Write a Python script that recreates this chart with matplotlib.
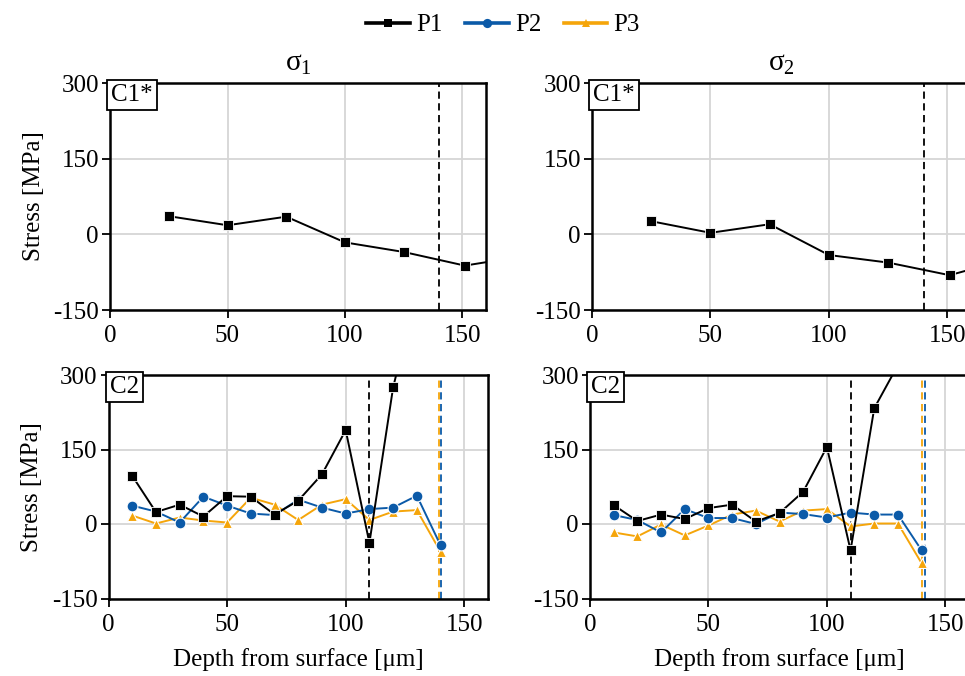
import matplotlib
matplotlib.use("Agg")
import matplotlib.pyplot as plt
from matplotlib.lines import Line2D

plt.rcParams["font.family"] = ["Liberation Serif", "DejaVu Serif"]
plt.rcParams["mathtext.fontset"] = "custom"
plt.rcParams["mathtext.rm"] = "Liberation Serif"
plt.rcParams["mathtext.it"] = "Liberation Serif"
plt.rcParams["axes.unicode_minus"] = False

# ---- data -------------------------------------------------------------
# C1*: single profile P1, depth steps of 25 µm
c1_depth = [25, 50, 75, 100, 125, 151, 175]
c1_s1_p1 = [36, 18, 35, -16, -35, -62, -44]
c1_s2_p1 = [26, 3, 20, -41, -56, -81, -50]
c1_limit = 140

# C2: three profiles, depth steps of 10 µm
c2_depth_p1 = [10, 20, 30, 40, 50, 60, 70, 80, 90, 100, 110, 120, 130]
c2_s1_p1 = [97, 24, 39, 15, 56, 55, 19, 47, 100, 189, -38, 275, 470]
c2_s2_p1 = [38, 6, 19, 10, 32, 39, 5, 22, 65, 155, -53, 233, 320]

c2_depth = [10, 20, 30, 40, 50, 60, 70, 80, 90, 100, 110, 120, 130, 140]
c2_s1_p2 = [37, 25, 3, 55, 37, 21, 18, 49, 33, 21, 30, 33, 57, -43]
c2_s1_p3 = [17, 1, 13, 7, 3, 53, 39, 8, 39, 50, 8, 25, 28, -56]
c2_s2_p2 = [18, 8, -17, 30, 12, 12, 0, 23, 20, 13, 23, 19, 19, -53]
c2_s2_p3 = [-17, -25, -1, -23, -3, 19, 27, 5, 27, 30, -5, 1, 1, -79]

c2_limit_p1 = 110
c2_limits_s1 = {"P2": 140.3, "P3": 139.3}
c2_limits_s2 = {"P2": 141.3, "P3": 140.2}

series_names = ["P1", "P2", "P3"]
x_ticks = [0, 50, 100, 150]
y_ticks = [-150, 0, 150, 300]
column_titles = [r"$\mathregular{\sigma_1}$", r"$\mathregular{\sigma_2}$"]

# ---- styles -----------------------------------------------------------
BLACK = "#000000"
BLUE = "#0b5aa8"
ORANGE = "#f5a50a"
FS = 18

styles = {
    "P1": dict(color=BLACK, marker="s", markersize=7.6, markeredgecolor="white",
               markeredgewidth=0.6, markerfacecolor=BLACK, lw=1.4),
    "P2": dict(color=BLUE, marker="o", markersize=7.8, markeredgecolor="white",
               markeredgewidth=0.8, markerfacecolor=BLUE, lw=1.4),
    "P3": dict(color=ORANGE, marker="^", markersize=7.2, markeredgecolor="white",
               markeredgewidth=0.8, markerfacecolor=ORANGE, lw=1.4),
}

fig = plt.figure(figsize=(9.65, 6.76), dpi=100)
W, H = 965.0, 676.0


def make_axes(left_px, top_px, right_px, bottom_px):
    return fig.add_axes([left_px / W, 1 - bottom_px / H,
                         (right_px - left_px) / W, (bottom_px - top_px) / H])


def style_axes(ax, tag):
    ax.set_xlim(0, 160)
    ax.set_ylim(-150, 300)
    ax.set_xticks(x_ticks)
    ax.set_yticks(y_ticks)
    ax.grid(True, color="#d6d6d6", lw=1.3)
    ax.set_axisbelow(True)
    for sp in ax.spines.values():
        sp.set_linewidth(1.8)
        sp.set_zorder(5)
    ax.tick_params(direction="out", length=6, width=1.3, labelsize=FS, pad=2)
    ax.tick_params(axis="x", pad=5)
    ax.text(0.003, 0.995, tag, transform=ax.transAxes, ha="left", va="top",
            fontsize=FS, zorder=6,
            bbox=dict(boxstyle="square,pad=0.15", fc="white", ec="black", lw=1.3))


ax_tl = make_axes(110, 83, 486, 310)
ax_tr = make_axes(592, 83, 971, 310)
ax_bl = make_axes(108.5, 375, 488, 598.5)
ax_br = make_axes(590, 375, 969, 598.5)

# top row: C1*
for ax, vals, title in [(ax_tl, c1_s1_p1, column_titles[0]),
                        (ax_tr, c1_s2_p1, column_titles[1])]:
    style_axes(ax, "C1*")
    ax.plot(c1_depth, vals, zorder=4, clip_on=True, **styles["P1"])
    ax.axvline(c1_limit, color=BLACK, ls=(0, (4, 2.5)), lw=1.3, zorder=3)
    ax.set_title(title, fontsize=21, pad=9)
    if ax is ax_tl:
        ax.set_ylabel("Stress [MPa]", fontsize=FS, labelpad=6)

# bottom row: C2
for ax, p1, p2, p3, lims in [(ax_bl, c2_s1_p1, c2_s1_p2, c2_s1_p3, c2_limits_s1),
                             (ax_br, c2_s2_p1, c2_s2_p2, c2_s2_p3, c2_limits_s2)]:
    style_axes(ax, "C2")
    ax.axvline(c2_limit_p1, color=BLACK, ls=(0, (4, 2.5)), lw=1.3, zorder=3)
    ax.axvline(lims["P3"], color=ORANGE, ls=(0, (4, 2.5)), lw=1.3, zorder=3)
    ax.axvline(lims["P2"], color=BLUE, ls=(0, (4, 2.5)), lw=1.3, zorder=3)
    ax.plot(c2_depth, p3, zorder=4, **styles["P3"])
    ax.plot(c2_depth, p2, zorder=4, **styles["P2"])
    ax.plot(c2_depth_p1, p1, zorder=4, **styles["P1"])
    ax.set_xlabel("Depth from surface [μm]", fontsize=FS, labelpad=9)
    if ax is ax_bl:
        ax.set_ylabel("Stress [MPa]", fontsize=FS, labelpad=6)

# shared legend
handles = []
for name in series_names:
    st = dict(styles[name])
    st["markersize"] = st["markersize"] * 0.85
    st["markeredgewidth"] = 0
    st["lw"] = 2.6
    handles.append(Line2D([], [], **st))
fig.legend(handles, series_names, loc="center", bbox_to_anchor=(503 / W, 1 - 25 / H),
           ncol=3, frameon=False, fontsize=FS, handlelength=1.75, handletextpad=0.25,
           columnspacing=0.9, borderaxespad=0)

fig.savefig("out.png", dpi=100)
